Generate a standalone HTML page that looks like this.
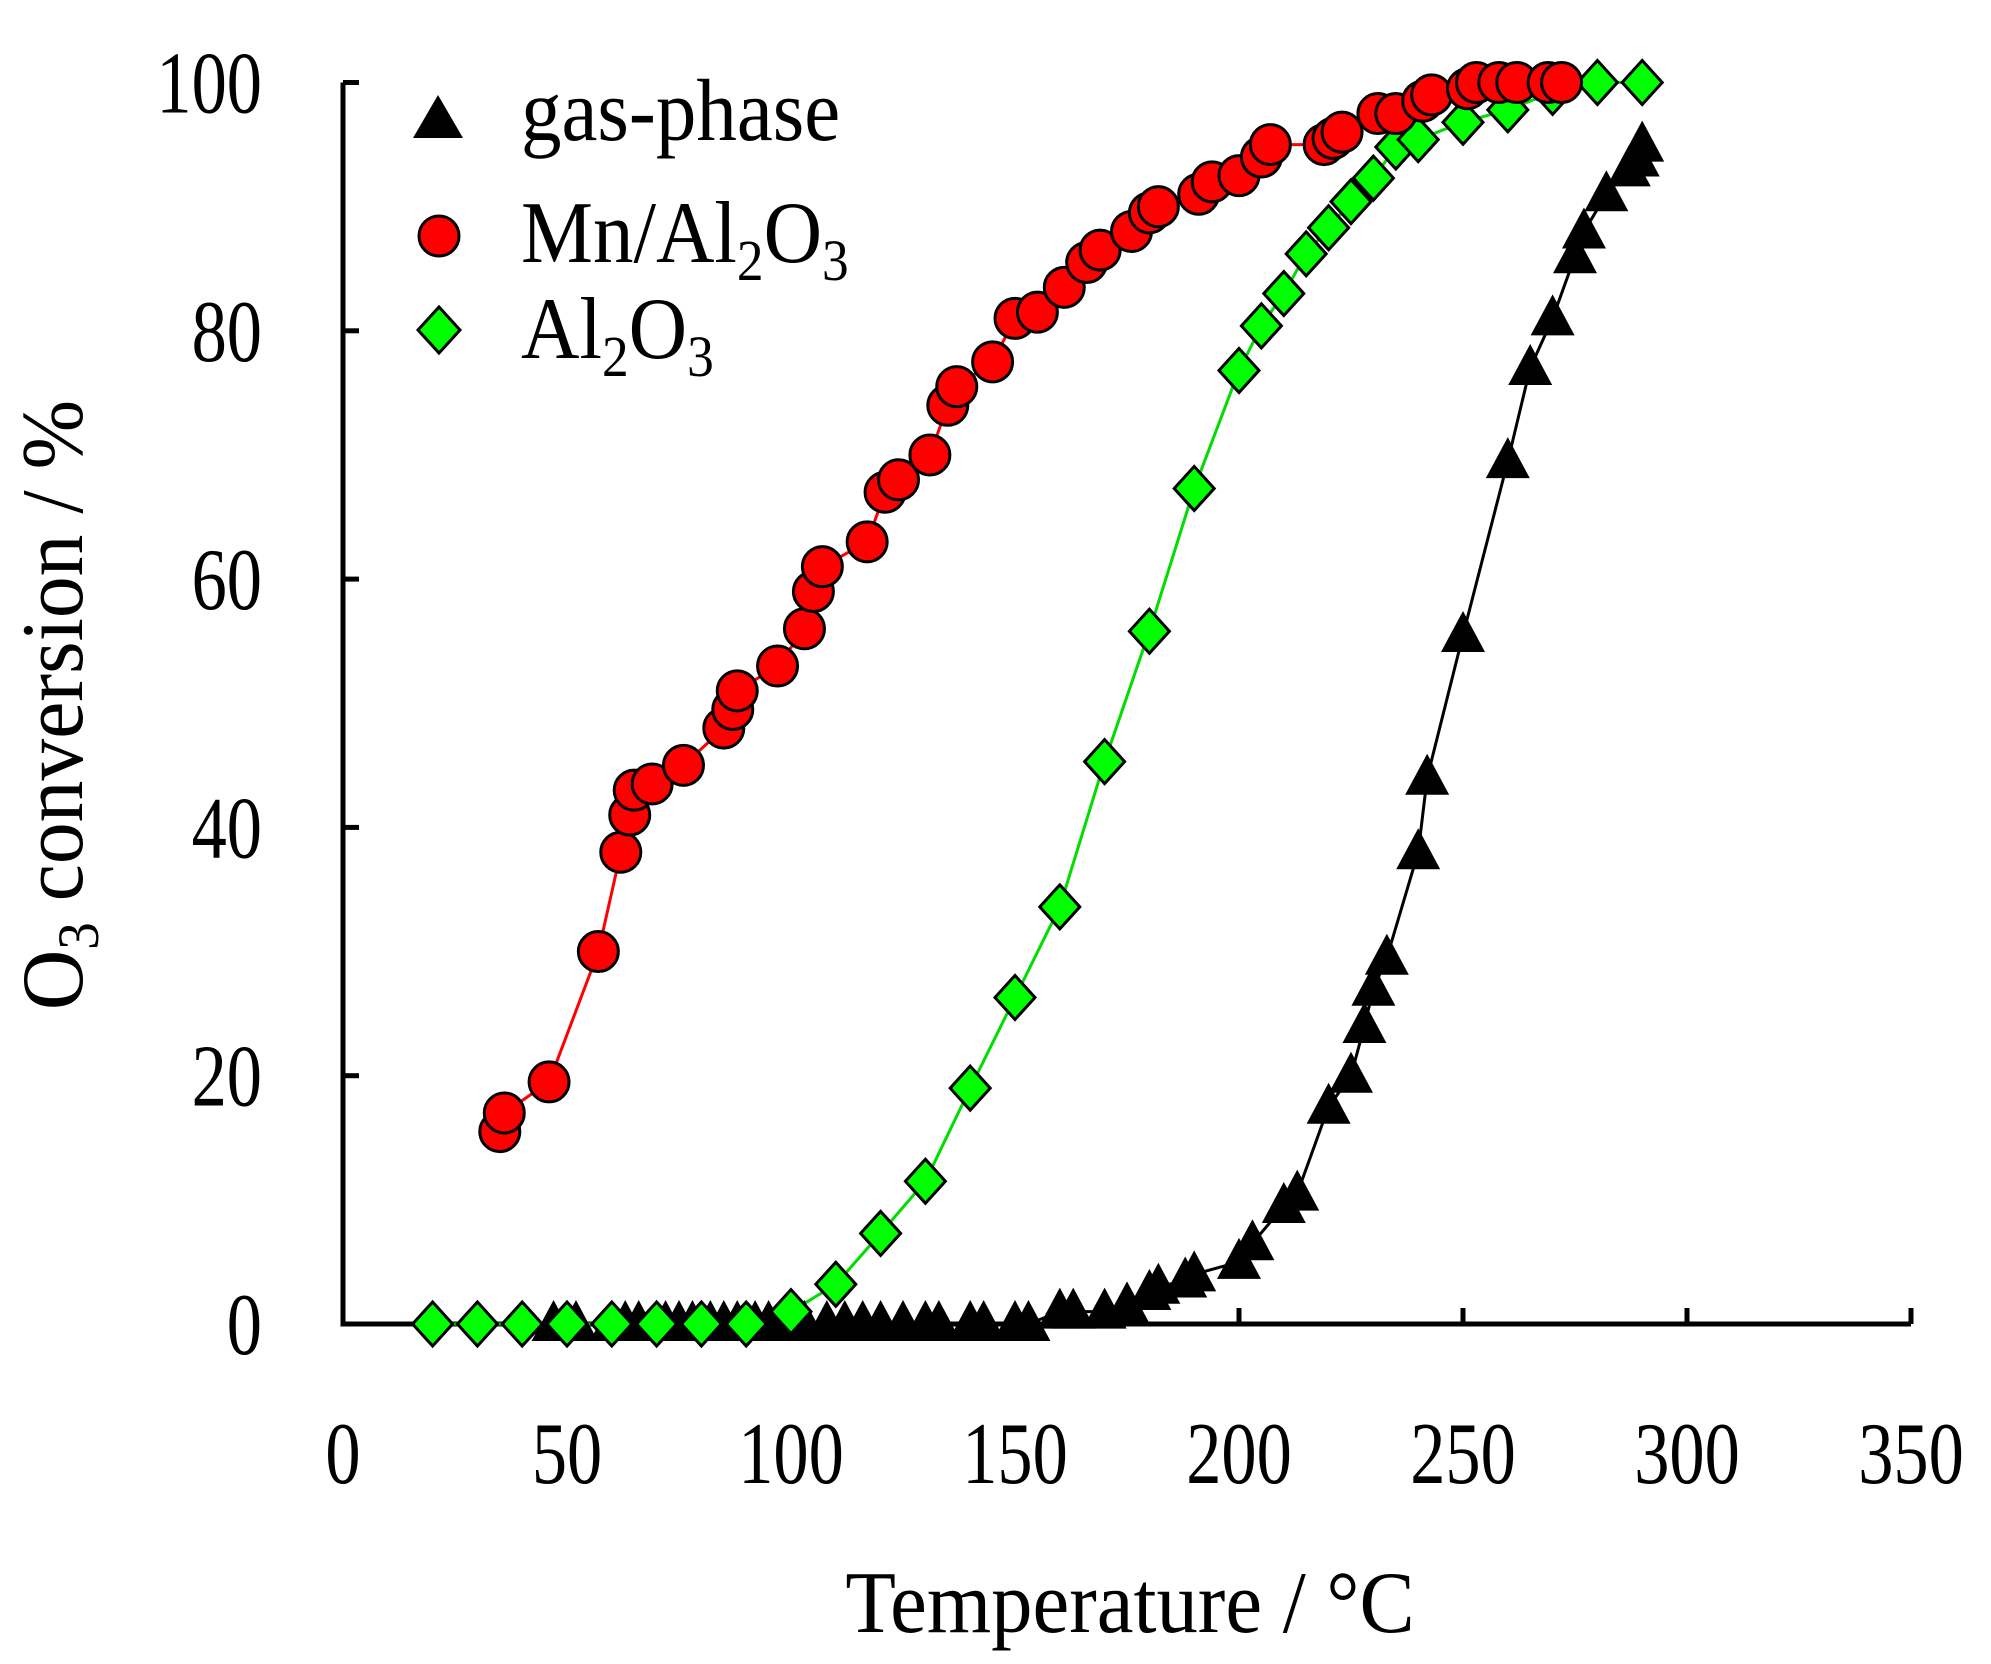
<!DOCTYPE html>
<html><head><meta charset="utf-8"><style>
html,body{margin:0;padding:0;background:#fff}
svg{display:block}
text{font-family:"Liberation Serif",serif;fill:#000}
</style></head><body>
<svg id="s" width="1991" height="1664" viewBox="0 0 1991 1664" xmlns="http://www.w3.org/2000/svg">
<g id="axes" stroke="#000" stroke-width="5" fill="none"></g>
<g id="plot"></g>
<g id="labels" font-size="88"></g>
<text transform="translate(1130,1632) scale(0.94,1)" font-size="88" text-anchor="middle">Temperature / °C</text>
<text transform="translate(82,705) rotate(-90) scale(0.95,1)" font-size="88" text-anchor="middle">O<tspan font-size="58" dy="16">3</tspan><tspan dy="-16"> conversion / %</tspan></text>
<g id="legend">
<polygon points="438,95 463,138 413,138" fill="#000"/>
<text transform="translate(521,140) scale(0.92,1)" font-size="88">gas-phase</text>
<circle cx="439" cy="236" r="20" fill="#f00" stroke="#000" stroke-width="3"/>
<text transform="translate(521,262) scale(0.92,1)" font-size="88">Mn/Al<tspan font-size="58" dy="18">2</tspan><tspan dy="-18">O</tspan><tspan font-size="58" dy="18">3</tspan></text>
<polygon points="439,307 460,330 439,353 418,330" fill="#0f0" stroke="#000" stroke-width="3"/>
<text transform="translate(521,358) scale(0.92,1)" font-size="88">Al<tspan font-size="58" dy="18">2</tspan><tspan dy="-18">O</tspan><tspan font-size="58" dy="18">3</tspan></text>
</g>
</svg>
<script>
const NS="http://www.w3.org/2000/svg";
const X=t=>343+t*4.48, Y=v=>1324-v*12.415;
function el(p,n,a){const e=document.createElementNS(NS,n);for(const k in a)e.setAttribute(k,a[k]);p.appendChild(e);return e;}
const ax=document.getElementById('axes'),pl=document.getElementById('plot'),lb=document.getElementById('labels');
el(ax,'path',{d:`M${X(0)},${Y(100)} L${X(0)},${Y(0)} L${X(350)},${Y(0)}`});
for(let v=0;v<=100;v+=20){el(ax,'line',{x1:X(0),y1:Y(v),x2:X(0)+16,y2:Y(v)});
 const t=el(lb,'text',{transform:`translate(262,${Y(v)+30}) scale(0.8,1)`,'text-anchor':'end'});t.textContent=v;}
for(let t=0;t<=350;t+=50){if(t>0)el(ax,'line',{x1:X(t),y1:Y(0),x2:X(t),y2:Y(0)-16});
 const e=el(lb,'text',{transform:`translate(${X(t)},1483) scale(0.8,1)`,'text-anchor':'middle'});e.textContent=t;}
const red=[[35,15.5],[36,17],[46,19.5],[57,30],[62,38],[64,41],[65,43],[69,43.5],[76,45],[85,48],[87,49.5],[88,51],[97,53],[103,56],[105,59],[107,61],[117,63],[121,67],[124,68],[131,70],[135,74],[137,75.5],[145,77.5],[150,81],[155,81.5],[161,83.5],[166,85.5],[169,86.5],[176,88],[180,89.5],[182,90],[191,91],[194,92],[200,92.5],[205,94],[207,95],[219,95],[221,95.5],[223,96],[231,97.5],[235,97.5],[241,98.5],[243,99],[251,99.5],[253,100],[258,100],[262,100],[269,100],[272,100]];
const grn=[[20,0],[30,0],[40,0],[50,0],[60,0],[70,0],[80,0],[90,0],[100,1],[110,3.2],[120,7.3],[130,11.5],[140,19],[150,26.3],[160,33.6],[170,45.3],[180,55.8],[190,67.3],[200,76.8],[205,80.4],[210,83],[215,86.2],[220,88.3],[225,90.4],[230,92.3],[235,94.8],[240,95.4],[250,96.8],[260,97.8],[270,99.2],[280,100],[290,100]];
const blk=[];
[47,50,52,60,63,66,70,72,75,78,82,85,88,92,95,100,103,108,112,116,120,125,130,133,140,143,150,153].forEach(t=>blk.push([t,0]));
[[160,1],[163,1],[170,1],[175,1.5],[180,2.5],[182,3],[188,3.5],[190,4],[200,5],[203,6.5],[210,9.5],[213,10.5],[220,17.5],[225,20],[228,24],[230,27],[233,29.5],[240,38],[242,44],[250,55.5],[260,69.5],[265,77],[270,81],[275,86],[277,88],[282,91],[287,93],[289,93.8],[290,95]].forEach(p=>blk.push(p));
const pts=a=>a.map(p=>X(p[0]).toFixed(1)+','+Y(p[1]).toFixed(1)).join(' ');
el(pl,'polyline',{points:pts(blk.filter(p=>p[0]>=150)),fill:'none',stroke:'#000','stroke-width':3});
el(pl,'line',{x1:X(45),y1:Y(0),x2:X(155),y2:Y(0),stroke:'#000','stroke-width':3});
el(pl,'polyline',{points:pts(grn),fill:'none',stroke:'#0d0','stroke-width':3});
el(pl,'polyline',{points:pts(red),fill:'none',stroke:'#f00','stroke-width':3});
blk.forEach(p=>{const x=X(p[0]),y=Y(p[1]);el(pl,'polygon',{points:`${x},${y-24} ${x+22},${y+17} ${x-22},${y+17}`,fill:'#000'});});
grn.forEach(p=>{const x=X(p[0]),y=Y(p[1]);el(pl,'polygon',{points:`${x},${y-22} ${x+20},${y} ${x},${y+22} ${x-20},${y}`,fill:'#0f0',stroke:'#000','stroke-width':3});});
red.forEach(p=>{el(pl,'circle',{cx:X(p[0]),cy:Y(p[1]),r:20,fill:'#f00',stroke:'#000','stroke-width':3});});
</script>
</body></html>
